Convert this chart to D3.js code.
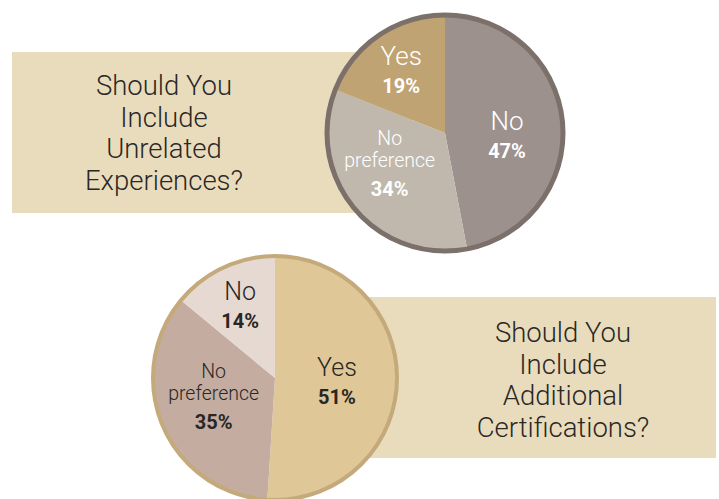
<!DOCTYPE html>
<html>
<head>
<meta charset="utf-8">
<script src="https://cdn.jsdelivr.net/npm/d3@7"></script>
<style>
  body { margin: 0; background: #fff; }
  svg { display: block; font-family: Roboto, "Open Sans", sans-serif; }
</style>
</head>
<body>
<div id="chart"></div>
<script>
// data
const topCategories = ["No", "No preference", "Yes"];
const topValues = [47, 34, 19];
const topTitle = ["Should You", "Include", "Unrelated", "Experiences?"];

const bottomCategories = ["Yes", "No preference", "No"];
const bottomValues = [51, 35, 14];
const bottomTitle = ["Should You", "Include", "Additional", "Certifications?"];

const width = 719, height = 499;

const svg = d3.select("#chart")
    .append("svg")
    .attr("width", width)
    .attr("height", height);

// beige boxes behind the pies
function drawBox(x, y, w, h, lines, cx, firstBaseline) {
    svg.append("rect")
        .attr("x", x).attr("y", y)
        .attr("width", w).attr("height", h)
        .attr("fill", "#e9dcbd");

    svg.append("text")
        .attr("text-anchor", "middle")
        .style("font-size", "27.5px")
        .style("font-weight", 300)
        .attr("fill", "#2a2826")
        .selectAll("tspan")
        .data(lines)
        .join("tspan")
        .attr("x", cx)
        .attr("y", (d, i) => firstBaseline + i * 31.7)
        .text(d => d);
}

drawBox(12, 52, 400, 161, topTitle, 164, 95);
drawBox(300, 297, 416, 161, bottomTitle, 563, 342);

// pie with border ring and labels
function drawPie(opts) {
    const g = svg.append("g")
        .attr("transform", `translate(${opts.cx},${opts.cy})`);

    const pie = d3.pie().sort(null).value(d => d.value);
    const slices = pie(opts.categories.map((c, i) => ({ name: c, value: opts.values[i] })));

    const arc = d3.arc().innerRadius(0).outerRadius(opts.r);

    g.selectAll("path")
        .data(slices)
        .join("path")
        .attr("d", arc)
        .attr("fill", (d, i) => opts.colors[i]);

    g.append("circle")
        .attr("r", opts.r)
        .attr("fill", "none")
        .attr("stroke", opts.ring)
        .attr("stroke-width", opts.ringWidth);

    slices.forEach((d, i) => {
        const mid = (d.startAngle + d.endAngle) / 2 + opts.labelShift[i] * Math.PI / 180;
        const lr = opts.labelR[i];
        const x = lr * Math.sin(mid);
        const y = -lr * Math.cos(mid);
        const words = d.data.name === "No preference" ? ["No", "preference"] : [d.data.name];
        const t = g.append("text")
            .attr("text-anchor", "middle")
            .attr("fill", opts.textColor);
        if (words.length === 1) {
            t.append("tspan").attr("x", x).attr("y", y - 4)
                .style("font-size", opts.nameSize + "px").style("font-weight", 300)
                .text(words[0]);
            t.append("tspan").attr("x", x).attr("y", y + 24)
                .style("font-size", "20px").style("font-weight", 700)
                .text(d.data.value + "%");
        } else {
            t.append("tspan").attr("x", x).attr("y", y - 18)
                .style("font-size", "19.5px").style("font-weight", 300)
                .text(words[0]);
            t.append("tspan").attr("x", x).attr("y", y + 4)
                .style("font-size", "19.5px").style("font-weight", 300)
                .text(words[1]);
            t.append("tspan").attr("x", x).attr("y", y + 33)
                .style("font-size", "20px").style("font-weight", 700)
                .text(d.data.value + "%");
        }
    });
}

drawPie({
    cx: 445, cy: 133, r: 118, ringWidth: 5, ring: "#7b706a",
    categories: topCategories, values: topValues,
    colors: ["#9c918d", "#c0b8ad", "#bfa372"],
    textColor: "#ffffff", nameSize: 26,
    labelR: [62, 63, 78], labelShift: [6, 11, 0]
});

drawPie({
    cx: 275, cy: 378, r: 122, ringWidth: 4, ring: "#c4a97a",
    categories: bottomCategories, values: bottomValues,
    colors: ["#dfc797", "#c4ada0", "#e6d9d2"],
    textColor: "#2a2624", nameSize: 25,
    labelR: [62, 64, 82], labelShift: [0, 7, 0]
});
</script>
</body>
</html>
